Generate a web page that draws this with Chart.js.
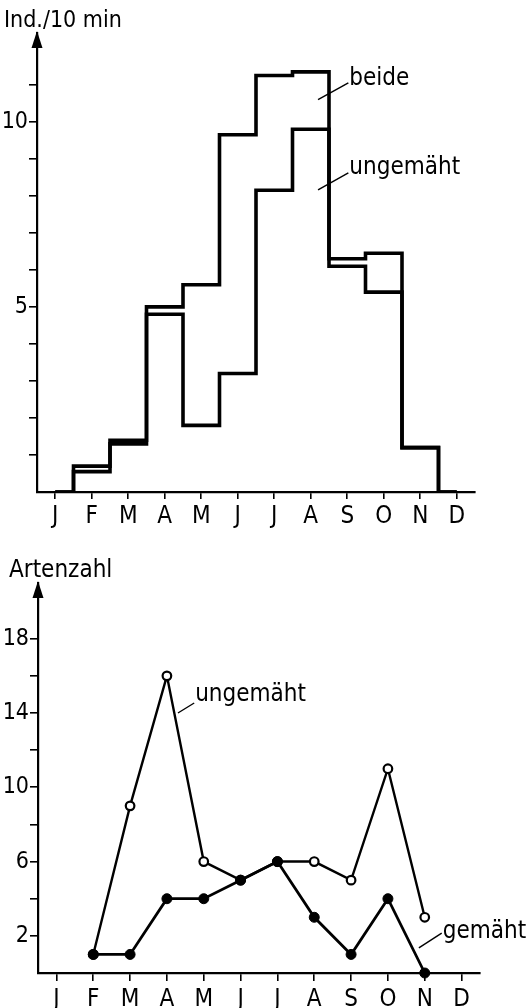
<!DOCTYPE html>
<html>
<head>
<meta charset="utf-8">
<script src="https://cdn.jsdelivr.net/npm/chart.js@4"></script>
<style>
  html, body { margin: 0; padding: 0; background: #fff; }
  #box1 { position: absolute; left: 0; top: 0; width: 529px; height: 540px; }
  #box2 { position: absolute; left: 0; top: 520px; width: 529px; height: 488px; }
</style>
</head>
<body>
<div id="box1"><canvas id="grafico"></canvas></div>
<div id="box2"><canvas id="grafico2"></canvas></div>
<script>
// Daten =====================================================================

const monate = ["J", "F", "M", "A", "M", "J", "J", "A", "S", "O", "N", "D"];

// oben: Ind./10 min (Treppen je Monat)
const beide = [0, 0.7, 1.4, 5.0, 5.6, 9.65, 11.25, 11.35, 6.3, 6.45, 1.2, 0];
const ungemaehtInd = [0, 0.55, 1.3, 4.8, 1.8, 3.2, 8.15, 9.8, 6.1, 5.4, 1.2, 0];
const labelsInd = [5, 10];

// unten: Artenzahl
const ungemaehtArten = [null, 1, 9, 16, 6, 5, 6, 6, 5, 11, 3, null];
const gemaehtArten = [null, 1, 1, 4, 4, 5, 6, 3, 1, 4, 0, null];
const labelsArten = [2, 6, 10, 14, 18];

const schrift = "'DejaVu Sans Condensed', 'Liberation Sans Narrow', 'DejaVu Sans', sans-serif";
Chart.defaults.font.family = schrift;
Chart.defaults.color = "#000";

// Pfeil, Achsentitel und Beschriftungen
const beschriftung = {
  id: "beschriftung",
  afterDraw(chart, args, opts) {
    const ctx = chart.ctx;
    const a = chart.chartArea;
    const x = chart.scales.x;
    const y = chart.scales.y;
    ctx.save();
    ctx.fillStyle = "#000";
    ctx.strokeStyle = "#000";
    ctx.beginPath();
    ctx.moveTo(a.left, a.top - 2);
    ctx.lineTo(a.left - 5.5, a.top + 15);
    ctx.lineTo(a.left + 5.5, a.top + 15);
    ctx.closePath();
    ctx.fill();
    ctx.font = opts.titelGroesse + "px " + schrift;
    ctx.textBaseline = "alphabetic";
    ctx.fillText(opts.titel, opts.titelX, opts.titelY);
    ctx.font = "24px " + schrift;
    ctx.lineWidth = 1.4;
    opts.notizen.forEach((n) => {
      const x0 = x.getPixelForValue(n.von[0]);
      const y0 = y.getPixelForValue(n.von[1]);
      const x1 = x.getPixelForValue(n.bis[0]);
      const y1 = y.getPixelForValue(n.bis[1]);
      ctx.beginPath();
      ctx.moveTo(x0, y0);
      ctx.lineTo(x1, y1);
      ctx.stroke();
      ctx.fillText(n.text, x1 + 1, y1 + n.dy);
    });
    ctx.restore();
  },
};

function tickFarbe(maxTick) {
  return (c) => (c.tick && (c.tick.value === 0 || c.tick.value > maxTick) ? "rgba(0,0,0,0)" : "#000");
}

// Gráfico 1 =================================================================

const config1 = {
  type: "line",
  data: {
    labels: monate,
    datasets: [
      {
        label: "beide",
        data: beide,
        stepped: "middle",
        borderColor: "#000",
        borderWidth: 3.6,
        pointRadius: 0,
        fill: false,
      },
      {
        label: "ungemäht",
        data: ungemaehtInd,
        stepped: "middle",
        borderColor: "#000",
        borderWidth: 3.6,
        pointRadius: 0,
        fill: false,
      },
    ],
  },
  options: {
    responsive: true,
    maintainAspectRatio: false,
    animation: false,
    events: [],
    layout: { padding: { top: 33, right: 54, left: 0, bottom: 0 } },
    plugins: {
      legend: { display: false },
      tooltip: { enabled: false },
      beschriftung: {
        titel: "Ind./10 min",
        titelGroesse: 23,
        titelX: 4,
        titelY: 27,
        notizen: [
          { text: "beide", von: [7.2, 10.6], bis: [8.03, 11.05], dy: 2 },
          { text: "ungemäht", von: [7.2, 8.16], bis: [8.03, 8.62], dy: 1 },
        ],
      },
    },
    scales: {
      x: {
        offset: true,
        grid: { offset: false, drawOnChartArea: false, tickLength: 7, color: "#000", lineWidth: 1.6 },
        border: { color: "#000", width: 2.2 },
        ticks: { padding: 3, font: { size: 24 }, maxRotation: 0, autoSkip: false },
        afterFit: (s) => { s.height = 48; },
      },
      y: {
        min: 0,
        max: 12.4,
        grid: { drawOnChartArea: false, tickLength: 8, color: tickFarbe(11), lineWidth: 1.6 },
        border: { color: "#000", width: 2.2 },
        ticks: {
          stepSize: 1,
          includeBounds: false,
          padding: 1,
          font: { size: 23 },
          callback: (v) => (labelsInd.includes(v) ? String(v) : ""),
        },
        afterFit: (s) => { s.width = 37; },
      },
    },
  },
  plugins: [beschriftung],
};

// Gráfico 2 =================================================================

const config2 = {
  type: "line",
  data: {
    labels: monate,
    datasets: [
      {
        label: "gemäht",
        data: gemaehtArten,
        borderColor: "#000",
        borderWidth: 2.8,
        pointRadius: 5,
        pointBackgroundColor: "#000",
        pointBorderColor: "#000",
        pointBorderWidth: 1,
        clip: 10,
      },
      {
        label: "ungemäht",
        data: ungemaehtArten,
        borderColor: "#000",
        borderWidth: 2.4,
        pointRadius: 4.3,
        pointBackgroundColor: "#fff",
        pointBorderColor: "#000",
        pointBorderWidth: 2.2,
        clip: 10,
      },
    ],
  },
  options: {
    responsive: true,
    maintainAspectRatio: false,
    animation: false,
    events: [],
    layout: { padding: { top: 63, right: 49, left: 0, bottom: 0 } },
    plugins: {
      legend: { display: false },
      tooltip: { enabled: false },
      beschriftung: {
        titel: "Artenzahl",
        titelGroesse: 24,
        titelX: 9,
        titelY: 57,
        notizen: [
          { text: "ungemäht", von: [3.3, 14.0], bis: [3.74, 14.54], dy: -2 },
          { text: "gemäht", von: [9.84, 1.35], bis: [10.46, 2.15], dy: 5 },
        ],
      },
    },
    scales: {
      x: {
        offset: true,
        grid: { offset: false, drawOnChartArea: false, tickLength: 8, color: "#000", lineWidth: 1.6 },
        border: { color: "#000", width: 2.2 },
        ticks: { padding: 4, font: { size: 24 }, maxRotation: 0, autoSkip: false },
        afterFit: (s) => { s.height = 35; },
      },
      y: {
        min: 0,
        max: 21,
        grid: { drawOnChartArea: false, tickLength: 8, color: tickFarbe(18), lineWidth: 1.6 },
        border: { color: "#000", width: 2.2 },
        ticks: {
          stepSize: 2,
          includeBounds: false,
          padding: 1,
          font: { size: 23 },
          callback: (v) => (labelsArten.includes(v) ? String(v) : ""),
        },
        afterFit: (s) => { s.width = 38; },
      },
    },
  },
  plugins: [beschriftung],
};

const grafico = new Chart(document.getElementById("grafico"), config1);
const grafico2 = new Chart(document.getElementById("grafico2"), config2);
</script>
</body>
</html>
